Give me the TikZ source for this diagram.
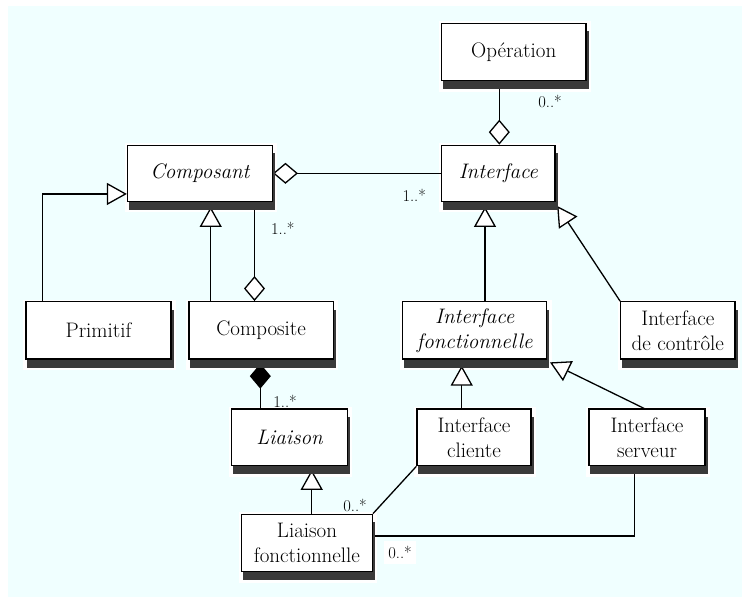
\documentclass[tikz,border=0pt]{standalone}
\usetikzlibrary{arrows.meta,calc}
\definecolor{paper}{RGB}{240,255,255}
\definecolor{shadowgray}{RGB}{58,58,58}

\pgfdeclarelayer{halo}
\pgfdeclarelayer{lines}
\pgfsetlayers{halo,lines,main}

% class box: name, x1, y1, x2, y2, text  (white halo, drop shadow, framed box)
\newcommand\umlbox[6]{%
  \begin{pgfonlayer}{halo}
    \fill[white] ({#2-3},{#3-2}) rectangle ({#4+5},{#5+11});
  \end{pgfonlayer}
  \fill[shadowgray] ({#2+1},{#3+8}) rectangle ({#4+2.5},{#5+8.5});
  \node[cls, minimum width={(#4)-(#2)}, minimum height={(#5)-(#3)}]
    (#1) at ({(#2+#4)/2},{(#3+#5)/2}) {#6};
}

\begin{document}
\begin{tikzpicture}[x=1pt,y=-1pt,
  cls/.style={draw=black, line width=1.3pt, fill=white, inner sep=0pt,
    align=center, font=\fontsize{21}{25}\selectfont},
  conn/.style={draw=black, line width=1.3pt},
  gen/.style={-{Triangle[fill=white, length=20pt, width=22pt, line width=1.3pt]}},
  agg/.style={{Diamond[fill=white, length=25pt, width=21pt, line width=1.3pt]}-},
  compo/.style={{Diamond[fill=black, length=25pt, width=21pt, line width=1.3pt]}-},
  mult/.style={inner sep=0pt, font=\fontsize{16.5}{16.5}\selectfont}]

\useasboundingbox (0,0) rectangle (742,597);
\begin{pgfonlayer}{halo}
  \fill[paper] (8,6) rectangle (742,597);
\end{pgfonlayer}

% classes
\umlbox{op}{441.5}{23.3}{586}{80.5}{Opération}
\umlbox{comp}{127.5}{145.3}{272.3}{201.3}{\itshape Composant}
\umlbox{itf}{441.7}{145.3}{555}{201.3}{\itshape Interface}
\umlbox{prim}{26}{301.7}{171}{359}{Primitif}
\umlbox{cmpst}{189}{301.7}{333.3}{359}{Composite}
\umlbox{ifonc}{402.7}{301.7}{546.7}{359}{\itshape Interface\\\itshape fonctionnelle}
\umlbox{ictl}{620.7}{301.7}{735}{359}{Interface\\de contrôle}
\umlbox{liai}{231.7}{409}{347.3}{465.7}{\itshape Liaison}
\umlbox{icli}{417}{409}{531}{465.7}{Interface\\cliente}
\umlbox{iserv}{589}{409}{705}{465.7}{Interface\\serveur}
\umlbox{lfonc}{241.7}{514.3}{372.3}{571.5}{Liaison\\fonctionnelle}

% x positions of vertical connectors
\coordinate (xop) at (499.3,0);
\coordinate (xagg) at (254.5,0);
\coordinate (xcg) at (210.7,0);
\coordinate (xpr) at (42.7,0);
\coordinate (xif) at (485,0);
\coordinate (xic) at (461.7,0);
\coordinate (xli) at (260.3,0);
\coordinate (xlf) at (311.7,0);
\coordinate (xis) at (634.3,0);

\begin{pgfonlayer}{lines}
  % aggregations and composition
  \draw[conn, agg] (itf.north -| xop) -- (op.south -| xop);
  \draw[conn, agg] (comp.east) -- (itf.west);
  \draw[conn, agg] (cmpst.north -| xagg) -- (comp.south -| xagg);
  \draw[conn, compo] ($(cmpst.south -| xli)+(0,4)$) -- (liai.north -| xli);
  % generalizations
  \draw[conn, gen] (cmpst.north -| xcg) -- ($(comp.south -| xcg)+(0,5)$);
  \draw[conn, gen] (prim.north -| xpr) |- ($(comp.south west)+(0,-8)$);
  \draw[conn, gen] (ifonc.north -| xif) -- ($(itf.south -| xif)+(0,5)$);
  \draw[conn, gen] (ictl.north west) -- ($(itf.south east)+(1.5,4)$);
  \draw[conn, gen] (icli.north -| xic) -- ($(ifonc.south -| xic)+(0,6)$);
  \draw[conn, gen] ($(iserv.north)+(-3,0)$) -- ($(ifonc.south east)+(2.6,2.7)$);
  \draw[conn, gen] (lfonc.north -| xlf) -- ($(liai.south -| xlf)+(0,3.5)$);
  % associations
  \draw[conn] (lfonc.north east) -- (icli.south west);
  \draw[conn] ($(lfonc.east)+(0,-7)$) -| (iserv.south -| xis);
\end{pgfonlayer}

% multiplicities
\node[mult] (m1) at (550,101) {0..*};
\node[mult] (m2) at (414.2,195.8) {1..*};
\node[mult] (m3) at (282.8,228.3) {1..*};
\node[mult] (m4) at (285,401.7) {1..*};
\node[mult] (m5) at (355,505.3) {0..*};
\node[mult, fill=white, inner xsep=4pt, inner ysep=5pt] (m6) at (400,552.7) {0..*};
\end{tikzpicture}
\end{document}
